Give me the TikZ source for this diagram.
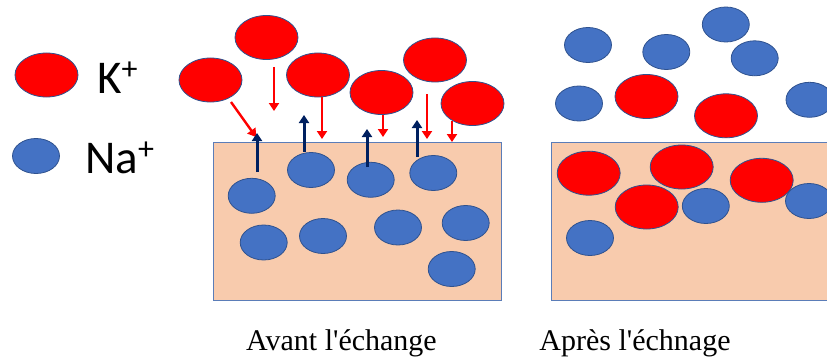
\documentclass[tikz,border=0pt]{standalone}
\usepackage{fontspec}
\setmainfont{Liberation Serif}
\newfontfamily\legendfont{Carlito}
\usetikzlibrary{shapes.geometric,arrows.meta}
\definecolor{kred}{HTML}{FF0000}
\definecolor{nablue}{HTML}{4472C4}
\definecolor{edgeblue}{HTML}{2F528F}
\definecolor{boxfill}{HTML}{F8CBAD}
\definecolor{boxedge}{HTML}{5B7DB8}
\definecolor{navyarrow}{HTML}{002060}
\newcommand{\ionplus}{\raisebox{0.62ex}{\fontsize{32}{32}\selectfont +}}
\begin{document}
\begin{tikzpicture}[x=1pt,y=-1pt,
  kion/.style={ellipse, draw=edgeblue, line width=0.8pt, fill=kred, minimum width=63pt, minimum height=44pt, inner sep=0pt},
  naion/.style={ellipse, draw=edgeblue, line width=0.8pt, fill=nablue, minimum width=47pt, minimum height=35pt, inner sep=0pt},
  box/.style={draw=boxedge, line width=1pt, fill=boxfill, minimum width=288pt, minimum height=158pt, inner sep=0pt},
  kflow/.style={draw=kred, line width=2.4pt, -{Triangle[width=10pt,length=8pt]}},
  naflow/.style={draw=navyarrow, line width=3pt, -{Triangle[width=10pt,length=8pt]}},
  caption/.style={font=\fontsize{30}{34}\selectfont, anchor=base, inner sep=0pt},
  legend/.style={font=\legendfont\fontsize{47}{50}\selectfont, anchor=base west, inner sep=0pt}]
\useasboundingbox (0,0) rectangle (827,361);
\clip (0,0) rectangle (827,361);

% legend
\node[kion] (legK) at (46.5,75) {};
\node[legend] (legKt) at (97,93) {K\ionplus};
\node[naion] (legNa) at (36,156) {};
\node[legend] (legNat) at (85,173) {Na\ionplus};

% left: before exchange
\node[kion] (k1) at (210.5,80) {};
\node[kion] (k2) at (266.5,37.5) {};
\node[kion] (k3) at (318,75) {};
\node[kion] (k4) at (381.5,92.5) {};
\node[kion] (k5) at (435,60) {};
\node[kion] (k6) at (472.5,103.5) {};

\coordinate (ka1) at (231,102); \coordinate (kb1) at (256,137);
\coordinate (ka2) at (274,67);  \coordinate (kb2) at (274,111);
\coordinate (ka3) at (322,97);  \coordinate (kb3) at (322,139);
\coordinate (ka4) at (383,115); \coordinate (kb4) at (383,137);
\coordinate (ka5) at (427,94);  \coordinate (kb5) at (427,139);
\coordinate (ka6) at (452,121); \coordinate (kb6) at (452,142);
\foreach \i in {1,...,6} {\draw[kflow] (ka\i) -- (kb\i);}

\node[box] (before) at (357,221) {};
\node[naion] (n1) at (251.7,195.8) {};
\node[naion] (n2) at (311,170) {};
\node[naion] (n3) at (370.7,179.8) {};
\node[naion] (n4) at (433.3,173) {};
\node[naion] (n5) at (263.7,242.5) {};
\node[naion] (n6) at (323,236) {};
\node[naion] (n7) at (398,227.5) {};
\node[naion] (n8) at (465.7,223) {};
\node[naion] (n9) at (451.7,269) {};

\coordinate (na1) at (257,172); \coordinate (nb1) at (257,133);
\coordinate (na2) at (304,152); \coordinate (nb2) at (304,115);
\coordinate (na3) at (367,167); \coordinate (nb3) at (367,129);
\coordinate (na4) at (417,157); \coordinate (nb4) at (417,120);
\foreach \i in {1,...,4} {\draw[naflow] (na\i) -- (nb\i);}

% right: after exchange
\node[naion] (ra) at (588,45) {};
\node[naion] (rb) at (666.3,52) {};
\node[naion] (rc) at (725.8,24.5) {};
\node[naion] (rd) at (754.7,58.3) {};
\node[naion] (re) at (579,103.5) {};
\node[naion] (rf) at (809.5,99.8) {};
\node[kion] (rg) at (646.5,96.5) {};
\node[kion] (rh) at (726,115.8) {};

\node[box] (after) at (695,221) {};
\node[kion] (ri) at (588.7,173.2) {};
\node[kion] (rj) at (681.7,167) {};
\node[kion] (rk) at (761.7,180.3) {};
\node[kion] (rl) at (646.7,207) {};
\node[naion] (rm) at (705.8,206) {};
\node[naion] (rn) at (809,201) {};
\node[naion] (ro) at (590,238) {};

% captions
\node[caption] (capL) at (341.5,350) {Avant l\textquotesingle échange};
\node[caption] (capR) at (635,350) {Après l\textquotesingle échnage};
\end{tikzpicture}
\end{document}
